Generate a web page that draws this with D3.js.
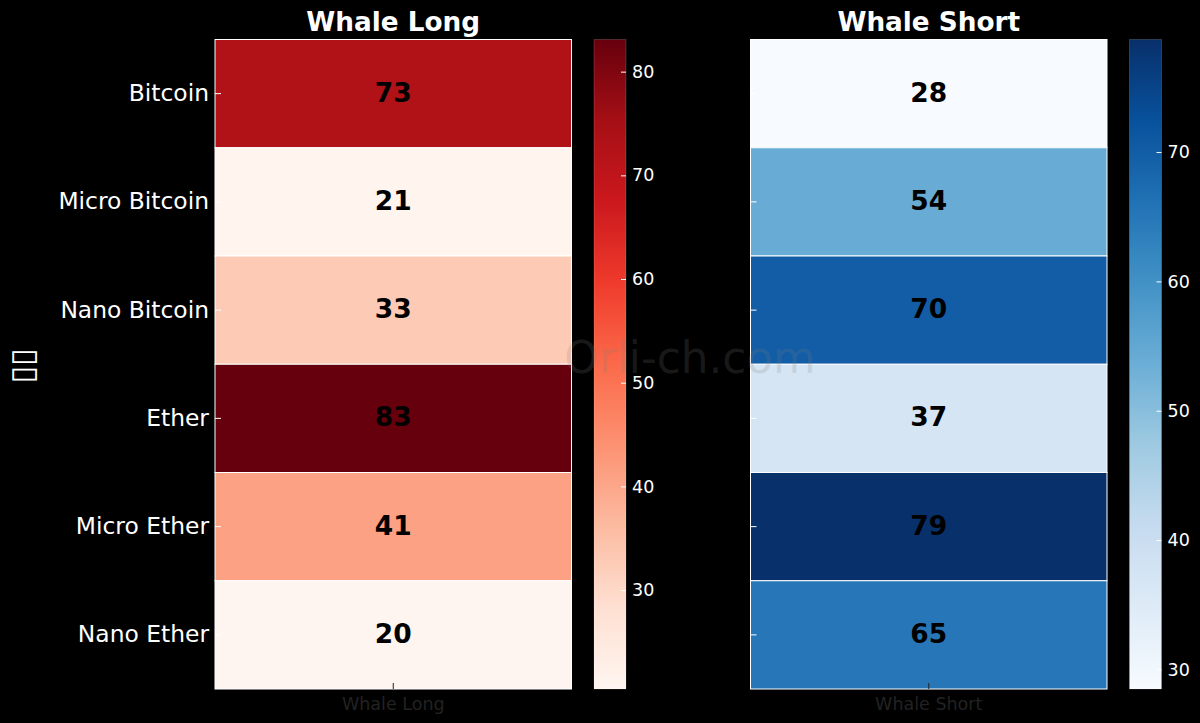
<!DOCTYPE html>
<html>
<head>
<meta charset="utf-8">
<script src="https://cdn.jsdelivr.net/npm/d3@7"></script>
<style>
  html, body { margin: 0; padding: 0; background: #000; }
  text { font-family: "DejaVu Sans", sans-serif; }
</style>
</head>
<body>
<div id="chart"></div>
<script>
const categories = ["Bitcoin", "Micro Bitcoin", "Nano Bitcoin", "Ether", "Micro Ether", "Nano Ether"];
const whaleLong = [73, 21, 33, 83.1, 41, 20.46];
const whaleShort = [28.49, 54, 70, 37, 78.7, 65];
const longTicks = [30, 40, 50, 60, 70, 80];
const shortTicks = [30, 40, 50, 60, 70];

const width = 1200;
const height = 723;
const plotTop = 39.5;
const plotBottom = 689;

const svg = d3.select("#chart")
  .append("svg")
  .attr("width", width)
  .attr("height", height)
  .style("display", "block");

svg.append("rect").attr("width", width).attr("height", height).attr("fill", "#000");

const defs = svg.append("defs");

const y = d3.scaleBand()
  .domain(categories)
  .range([plotTop, plotBottom]);

// same stops as the matplotlib maps, linear between them
function brewerScale(scheme, values) {
  const [lo, hi] = d3.extent(values);
  const colors = scheme[9];
  return d3.scaleLinear()
    .domain(colors.map((c, i) => lo + (hi - lo) * i / 8))
    .range(colors)
    .interpolate(d3.interpolateRgb);
}

function drawPanel(name, values, scheme, ticks, left, showLabels) {
  const panelWidth = 356.5;
  const color = brewerScale(scheme, values);
  const x = d3.scaleBand().domain([name]).range([left, left + panelWidth]);
  const g = svg.append("g");

  g.selectAll(".cell")
    .data(values)
    .enter()
    .append("rect")
    .attr("class", "cell")
    .attr("x", x(name))
    .attr("y", (d, i) => y(categories[i]))
    .attr("width", x.bandwidth())
    .attr("height", y.bandwidth())
    .attr("fill", d => color(d))
    .attr("stroke", "#fff")
    .attr("stroke-width", 1);

  g.selectAll(".value")
    .data(values)
    .enter()
    .append("text")
    .attr("class", "value")
    .attr("x", x(name) + x.bandwidth() / 2)
    .attr("y", (d, i) => y(categories[i]) + y.bandwidth() / 2 - 1.5)
    .attr("dy", "0.36em")
    .attr("text-anchor", "middle")
    .attr("font-size", 26.5)
    .attr("font-weight", "bold")
    .attr("fill", "#000")
    .text(d => d3.format(".0f")(d));

  g.append("text")
    .attr("x", x(name) + x.bandwidth() / 2)
    .attr("y", 31)
    .attr("text-anchor", "middle")
    .attr("font-size", 26.3)
    .attr("font-weight", "bold")
    .attr("fill", "#fff")
    .text(name);

  // y axis, ticks point into the cells
  const yAxis = g.append("g")
    .attr("transform", `translate(${left},0)`)
    .call(d3.axisLeft(y).tickSize(-6).tickPadding(6).tickFormat(d => showLabels ? d : ""));
  yAxis.select(".domain").remove();
  yAxis.selectAll("line").attr("stroke", "#fff").attr("stroke-width", 1);
  yAxis.selectAll("text").attr("font-size", 23.4).attr("fill", "#fff").attr("font-family", "DejaVu Sans");

  const xAxis = g.append("g")
    .attr("transform", `translate(0,${plotBottom})`)
    .call(d3.axisBottom(x).tickSize(-6).tickPadding(9));
  xAxis.select(".domain").remove();
  xAxis.selectAll("line").attr("stroke", "#222").attr("stroke-width", 1);
  xAxis.selectAll("text").attr("font-size", 17.5).attr("fill", "#222").attr("font-family", "DejaVu Sans");

  // colorbar
  const barLeft = left + panelWidth + 22.5;
  const barWidth = 32;
  const [lo, hi] = d3.extent(values);
  const barScale = d3.scaleLinear().domain([lo, hi]).range([plotBottom, plotTop]);
  const gradId = "grad-" + name.replace(" ", "");
  defs.append("linearGradient")
    .attr("id", gradId)
    .attr("x1", 0).attr("x2", 0).attr("y1", 1).attr("y2", 0)
    .selectAll("stop")
    .data(color.domain())
    .enter()
    .append("stop")
    .attr("offset", d => (d - lo) / (hi - lo))
    .attr("stop-color", d => color(d));

  g.append("rect")
    .attr("x", barLeft)
    .attr("y", plotTop)
    .attr("width", barWidth)
    .attr("height", plotBottom - plotTop)
    .attr("fill", `url(#${gradId})`)
    .attr("stroke", "#fff")
    .attr("stroke-opacity", 0.2)
    .attr("stroke-width", 0.8);

  const barAxis = g.append("g")
    .attr("transform", `translate(${barLeft + barWidth},0)`)
    .call(d3.axisRight(barScale).tickValues(ticks).tickSize(-5).tickPadding(6));
  barAxis.select(".domain").remove();
  barAxis.selectAll("line").attr("stroke", "#fff").attr("stroke-width", 1);
  barAxis.selectAll("text").attr("font-size", 17.5).attr("fill", "#fff").attr("font-family", "DejaVu Sans");
}

drawPanel("Whale Long", whaleLong, d3.schemeReds, longTicks, 215, true);
drawPanel("Whale Short", whaleShort, d3.schemeBlues, shortTicks, 750.5, false);

svg.append("text")
  .attr("transform", "translate(32.5,366) rotate(-90)")
  .attr("text-anchor", "middle")
  .attr("font-size", 32)
  .attr("fill", "#fff")
  .text("\u25AF\u25AF");

svg.append("text")
  .attr("x", 690)
  .attr("y", 373)
  .attr("text-anchor", "middle")
  .attr("font-size", 43.7)
  .attr("fill", "#808080")
  .attr("fill-opacity", 0.2)
  .text("Orli-ch.com");
</script>
</body>
</html>
